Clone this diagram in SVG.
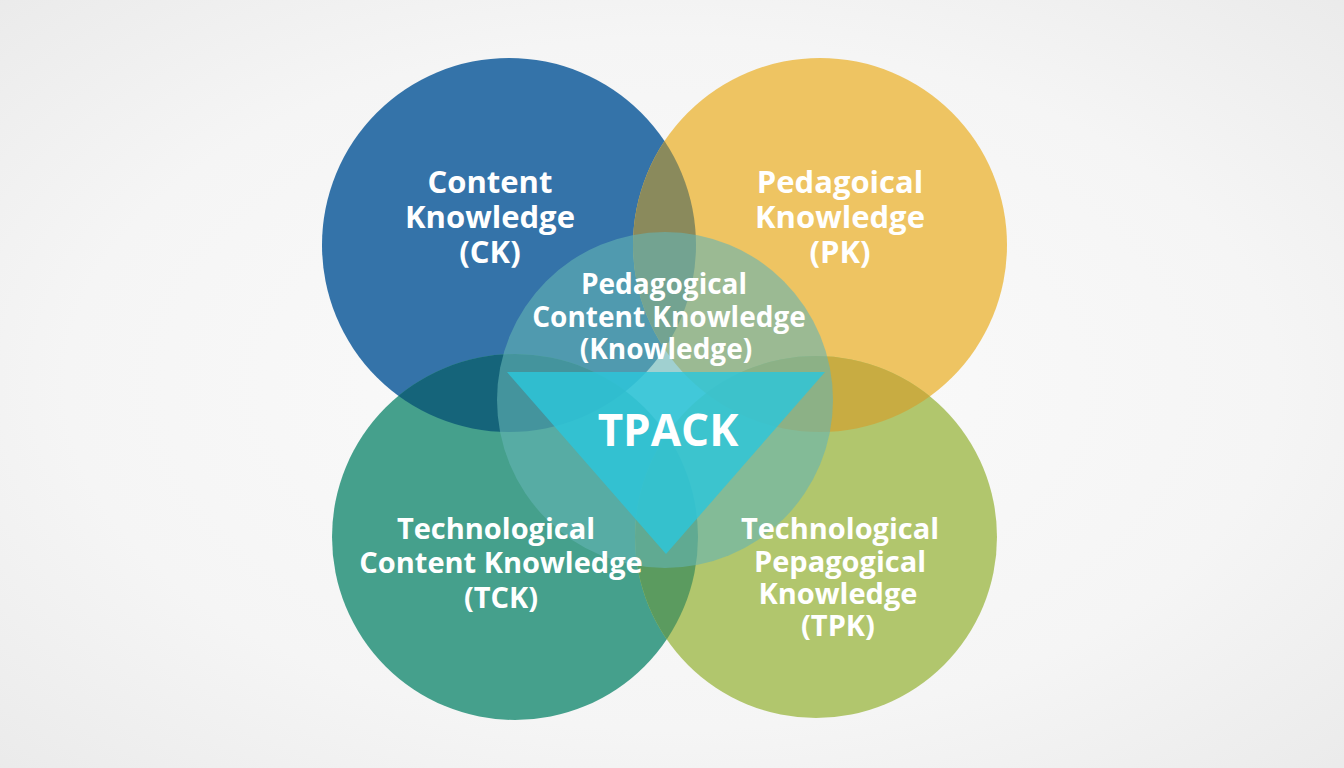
<svg xmlns="http://www.w3.org/2000/svg" width="1344" height="768" viewBox="0 0 1344 768">
  <defs>
    <radialGradient id="bg" cx="50%" cy="50%" r="75%">
      <stop offset="0" stop-color="#fbfbfb"/>
      <stop offset="0.6" stop-color="#f5f5f5"/>
      <stop offset="1" stop-color="#e9e9e9"/>
    </radialGradient>
    <clipPath id="clipCK"><circle cx="509" cy="245" r="187"/></clipPath>
    <clipPath id="clipPK"><circle cx="820" cy="245" r="187"/></clipPath>
    <clipPath id="clipTCK"><circle cx="515" cy="537" r="183"/></clipPath>
    <style>
      .lbl { font-family: "Open Sans", "Noto Sans", "Liberation Sans", sans-serif; font-weight: 700; fill: #ffffff; text-anchor: middle; font-size: 29px; }
      .big { font-size: 31px; }
      .pck { font-size: 28px; }
      .tpack { font-size: 44px; }
    </style>
  </defs>

  <rect width="1344" height="768" fill="url(#bg)"/>

  <g id="shapes">
    <circle id="circle-ck" cx="509" cy="245" r="187" fill="#3473a9"/>
    <circle id="circle-pk" cx="820" cy="245" r="187" fill="#eec462"/>
    <circle id="circle-tck" cx="515" cy="537" r="183" fill="#45a08c"/>
    <circle id="circle-tpk" cx="816" cy="537" r="181" fill="#b1c66d"/>
    <circle cx="820" cy="245" r="187" fill="#8a8a5c" clip-path="url(#clipCK)"/>
    <circle cx="515" cy="537" r="183" fill="#15647a" clip-path="url(#clipCK)"/>
    <circle cx="816" cy="537" r="181" fill="#c8ac42" clip-path="url(#clipPK)"/>
    <circle cx="816" cy="537" r="181" fill="#5b9b5f" clip-path="url(#clipTCK)"/>
    <circle id="circle-pck" cx="665" cy="400" r="168" fill="#64b4b4" fill-opacity="0.6"/>
    <polygon id="triangle-tpack" points="507,372 825,372 666,554" fill="#2cc6da" fill-opacity="0.82"/>
  </g>

  <g id="node-ck">
    <text class="lbl big"><tspan x="490" y="193">Content</tspan><tspan x="490" y="228">Knowledge</tspan><tspan x="490" y="263">(CK)</tspan></text>
  </g>
  <g id="node-pk">
    <text class="lbl big"><tspan x="840" y="193">Pedagoical</tspan><tspan x="840" y="228">Knowledge</tspan><tspan x="840" y="263">(PK)</tspan></text>
  </g>
  <g id="node-pck">
    <text class="lbl pck"><tspan x="664" y="294">Pedagogical</tspan><tspan x="669" y="327">Content Knowledge</tspan><tspan x="666" y="359">(Knowledge)</tspan></text>
  </g>
  <g id="node-tpack">
    <text class="lbl tpack" x="668" y="446">TPACK</text>
  </g>
  <g id="node-tck">
    <text class="lbl"><tspan x="496" y="539">Technological</tspan><tspan x="501" y="573">Content Knowledge</tspan><tspan x="501" y="608">(TCK)</tspan></text>
  </g>
  <g id="node-tpk">
    <text class="lbl"><tspan x="840" y="539">Technological</tspan><tspan x="840" y="572">Pepagogical</tspan><tspan x="838" y="604">Knowledge</tspan><tspan x="838" y="636">(TPK)</tspan></text>
  </g>
</svg>
